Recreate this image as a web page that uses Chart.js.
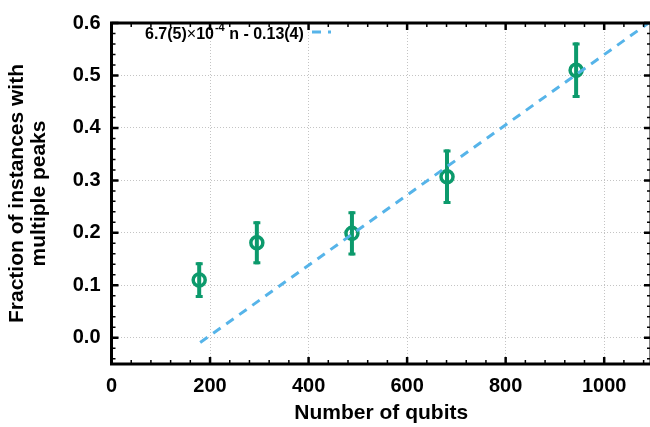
<!DOCTYPE html>
<html>
<head>
<meta charset="utf-8">
<script src="https://cdn.jsdelivr.net/npm/chart.js"></script>
<style>
  html, body { margin: 0; padding: 0; background: #fff; overflow: hidden; }
  #wrap { width: 652px; height: 427px; }
</style>
</head>
<body>
<div id="wrap"><canvas id="myChart"></canvas></div>
<script>
// data
const nQubits = [178, 295, 488, 681, 943];
const fracMulti = [0.110, 0.181, 0.199, 0.307, 0.510];
const fracErr = [0.034, 0.041, 0.042, 0.052, 0.053];
const fitX = [180, 1090];
const fitY = [-0.009, 0.600];
const xTicks = [0, 200, 400, 600, 800, 1000];
const yTicks = [0, 0.1, 0.2, 0.3, 0.4, 0.5, 0.6];

const FONT = 'Liberation Sans, Arial, Helvetica, sans-serif';
const GREEN = '#0c9a6c';
const BLUE = '#56b4e9';

// error bars, box, inward ticks and the fit key
const framePlugin = {
    id: 'frame',
    beforeDatasetsDraw(chart) {
        const ctx = chart.ctx, xs = chart.scales.x, ys = chart.scales.y;
        ctx.save();
        ctx.strokeStyle = GREEN;
        for (let i = 0; i < nQubits.length; i++) {
            const px = xs.getPixelForValue(nQubits[i]);
            const top = ys.getPixelForValue(fracMulti[i] + fracErr[i]);
            const bot = ys.getPixelForValue(fracMulti[i] - fracErr[i]);
            ctx.lineWidth = 4;
            ctx.beginPath();
            ctx.moveTo(px, top);
            ctx.lineTo(px, bot);
            ctx.stroke();
            ctx.lineWidth = 3;
            ctx.beginPath();
            ctx.moveTo(px - 3.5, top + 1.5); ctx.lineTo(px + 3.5, top + 1.5);
            ctx.moveTo(px - 3.5, bot - 1.5); ctx.lineTo(px + 3.5, bot - 1.5);
            ctx.stroke();
        }
        ctx.restore();
    },
    afterDatasetsDraw(chart) {
        const ctx = chart.ctx, a = chart.chartArea;
        const xs = chart.scales.x, ys = chart.scales.y;
        ctx.save();
        ctx.strokeStyle = '#000';
        // minor ticks
        ctx.lineWidth = 1.5;
        ctx.beginPath();
        for (let v = 40; v < xs.max; v += 40) {
            if (v % 200 === 0) continue;
            const p = xs.getPixelForValue(v);
            ctx.moveTo(p, a.bottom); ctx.lineTo(p, a.bottom - 4);
            ctx.moveTo(p, a.top); ctx.lineTo(p, a.top + 4);
        }
        for (let k = -2; k <= 30; k++) {
            if (k % 5 === 0) continue;
            const p = ys.getPixelForValue(k * 0.02);
            if (p > a.bottom || p < a.top) continue;
            ctx.moveTo(a.left, p); ctx.lineTo(a.left + 4, p);
            ctx.moveTo(a.right, p); ctx.lineTo(a.right - 4, p);
        }
        ctx.stroke();
        // major ticks
        ctx.lineWidth = 2.5;
        ctx.beginPath();
        xTicks.forEach(v => {
            const p = xs.getPixelForValue(v);
            ctx.moveTo(p, a.bottom); ctx.lineTo(p, a.bottom - 7);
            ctx.moveTo(p, a.top); ctx.lineTo(p, a.top + 7);
        });
        yTicks.forEach(v => {
            const p = ys.getPixelForValue(v);
            ctx.moveTo(a.left, p); ctx.lineTo(a.left + 7, p);
            ctx.moveTo(a.right, p); ctx.lineTo(a.right - 7, p);
        });
        ctx.stroke();
        // box
        ctx.lineWidth = 3;
        ctx.strokeRect(a.left, a.top, a.right - a.left, a.bottom - a.top);

        // fit key
        ctx.fillStyle = '#000';
        ctx.textBaseline = 'alphabetic';
        ctx.textAlign = 'left';
        let tx = 145;
        const ty = 39;
        ctx.font = 'bold 16px ' + FONT;
        ctx.fillText('6.7(5)', tx, ty);
        tx += ctx.measureText('6.7(5)').width;
        ctx.font = '16px ' + FONT;
        ctx.fillText('\u00d7', tx, ty);
        tx += ctx.measureText('\u00d7').width;
        ctx.font = 'bold 16px ' + FONT;
        ctx.fillText('10', tx, ty);
        tx += ctx.measureText('10').width;
        ctx.font = 'bold 11px ' + FONT;
        ctx.fillText('-4', tx + 1, ty - 8);
        tx += ctx.measureText('-4').width + 1;
        ctx.font = 'bold 16px ' + FONT;
        ctx.fillText(' n - 0.13(4)', tx, ty);
        ctx.strokeStyle = BLUE;
        ctx.lineWidth = 3;
        ctx.setLineDash([9, 7]);
        ctx.beginPath();
        ctx.moveTo(312, 32);
        ctx.lineTo(331, 32);
        ctx.stroke();
        ctx.restore();
    }
};

const ctx = document.getElementById('myChart').getContext('2d');
new Chart(ctx, {
    type: 'scatter',
    data: {
        datasets: [
            {
                label: 'fit',
                data: fitX.map((x, i) => ({ x: x, y: fitY[i] })),
                showLine: true,
                borderColor: BLUE,
                borderWidth: 3,
                borderDash: [9, 7],
                pointRadius: 0,
                fill: false,
                order: 0
            },
            {
                label: 'data',
                data: nQubits.map((x, i) => ({ x: x, y: fracMulti[i] })),
                pointRadius: 6,
                pointBorderWidth: 3.5,
                borderColor: GREEN,
                backgroundColor: 'rgba(255,255,255,0)',
                order: 1
            }
        ]
    },
    options: {
        responsive: true,
        maintainAspectRatio: false,
        animation: false,
        layout: { autoPadding: false, padding: { top: 17, right: 1, left: 0, bottom: 0 } },
        plugins: { legend: { display: false }, tooltip: { enabled: false } },
        scales: {
            x: {
                type: 'linear',
                min: 0,
                max: 1095,
                afterBuildTicks: s => { s.ticks = xTicks.map(v => ({ value: v })); },
                afterFit: s => { s.height = 63; },
                grid: { color: '#c4c4c4', lineWidth: 1, drawTicks: false, tickLength: 0 },
                border: { display: false, dash: [1, 2] },
                ticks: {
                    color: '#000',
                    padding: 10,
                    maxRotation: 0,
                    autoSkip: false,
                    font: { family: FONT, size: 20, weight: 'bold' },
                    callback: v => String(v)
                },
                title: {
                    display: true,
                    text: 'Number of qubits',
                    color: '#000',
                    font: { family: FONT, size: 21, weight: 'bold' },
                    padding: { top: 0, bottom: 1 }
                }
            },
            y: {
                type: 'linear',
                min: -0.05,
                max: 0.6,
                afterBuildTicks: s => { s.ticks = yTicks.map(v => ({ value: v })); },
                afterFit: s => { s.width = 111.5; },
                grid: { color: '#c4c4c4', lineWidth: 1, drawTicks: false, tickLength: 0 },
                border: { display: false, dash: [1, 2] },
                ticks: {
                    color: '#000',
                    padding: 11,
                    autoSkip: false,
                    font: { family: FONT, size: 20, weight: 'bold' },
                    callback: v => v.toFixed(1)
                },
                title: {
                    display: true,
                    text: ['Fraction of instances with', 'multiple peaks'],
                    color: '#000',
                    font: { family: FONT, size: 21, weight: 'bold', lineHeight: 1.05 },
                    padding: { top: 6, bottom: 0 }
                }
            }
        }
    },
    plugins: [framePlugin]
});
</script>
</body>
</html>
